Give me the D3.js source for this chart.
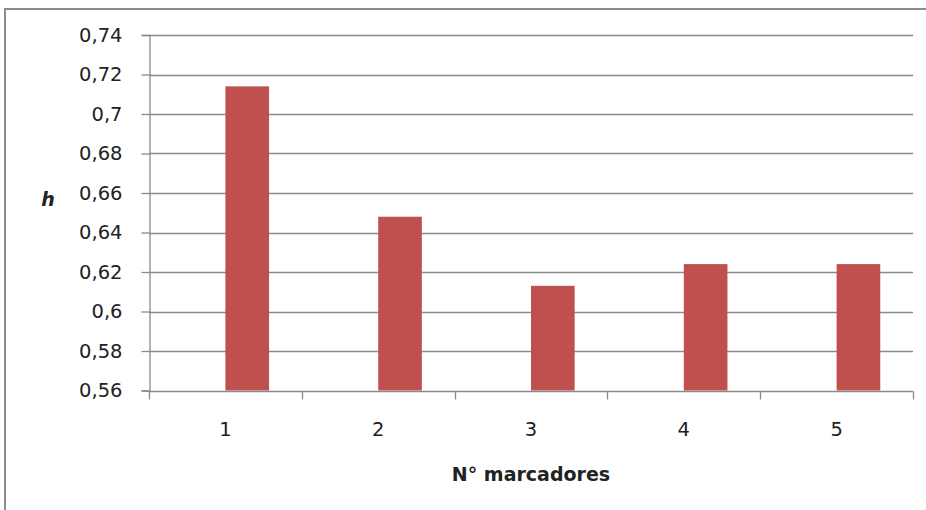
<!DOCTYPE html>
<html><head><meta charset="utf-8">
<script src="https://cdn.jsdelivr.net/npm/d3@7"></script>
<style>body{margin:0;background:#fff;}svg{display:block;font-family:"DejaVu Sans",sans-serif;}</style>
</head><body>
<svg id="c" width="926" height="510"></svg>
<script>
const categories = ["1","2","3","4","5"];
const values = [0.714, 0.648, 0.613, 0.624, 0.624];
const yTicks = [0.56,0.58,0.6,0.62,0.64,0.66,0.68,0.7,0.72,0.74];
const xTitle = "N° marcadores";
const yTitle = "h";
const FONT = "DejaVu Sans, sans-serif";

const svg = d3.select("#c");
const m = {l:149, r:913, t:35, b:390.5};
svg.append("rect").attr("x",5).attr("y",9).attr("width",940).attr("height",520)
  .attr("fill","#fff").attr("stroke","#8c8c8c").attr("stroke-width",2);

const x = d3.scaleBand().domain(categories).range([m.l,m.r]);
const y = d3.scaleLinear().domain([0.56,0.74]).range([m.b,m.t]);
const fmt = d => d3.format(".2~f")(d).replace(".",",");

// gridlines
svg.append("g").selectAll("line").data(yTicks.slice(1)).join("line")
  .attr("x1",m.l).attr("x2",m.r).attr("y1",d=>Math.round(y(d))+0.5).attr("y2",d=>Math.round(y(d))+0.5)
  .attr("stroke","#8a8a8a").attr("stroke-width",1.3);

// bars (second series slot of a 2-series cluster, gap 150%)
const bw = x.bandwidth()/3.5;
svg.append("g").selectAll("rect").data(values).join("rect")
  .attr("x",(d,i)=>x(categories[i])+x.bandwidth()/2)
  .attr("width",bw)
  .attr("y",d=>y(d)).attr("height",d=>y(0.56)-y(d))
  .attr("fill","#C0504D");

// y axis
const ya = svg.append("g").attr("transform",`translate(${m.l+0.5},0)`)
  .call(d3.axisLeft(y).tickValues(yTicks).tickFormat(fmt).tickSize(8).tickPadding(19));
ya.attr("font-family",FONT).attr("font-size",19.5);
ya.select(".domain").attr("stroke","#8a8a8a").attr("stroke-width",1.3);
ya.selectAll(".tick line").attr("stroke","#8a8a8a").attr("stroke-width",1.3);
ya.selectAll("text").attr("fill","#222");

// x axis
const xa = svg.append("g").attr("transform",`translate(0,${Math.round(m.b)+0.5})`);
xa.append("line").attr("x1",m.l).attr("x2",m.r).attr("stroke","#8a8a8a").attr("stroke-width",1.3);
const bounds = categories.map(c=>x(c)).concat([m.r]);
xa.selectAll(".tk").data(bounds).join("line").attr("class","tk")
  .attr("x1",d=>Math.round(d)+0.5).attr("x2",d=>Math.round(d)+0.5).attr("y1",0).attr("y2",8)
  .attr("stroke","#8a8a8a").attr("stroke-width",1.3);
xa.selectAll(".lb").data(categories).join("text").attr("class","lb")
  .attr("x",d=>x(d)+x.bandwidth()/2).attr("y",44).attr("text-anchor","middle")
  .attr("font-family",FONT).attr("font-size",19.5).attr("fill","#222").text(d=>d);

svg.append("text").attr("x",531).attr("y",481).attr("text-anchor","middle")
  .attr("font-family",FONT).attr("font-size",19).attr("font-weight","bold").attr("fill","#222").text(xTitle);
svg.append("text").attr("x",48).attr("y",206).attr("text-anchor","middle")
  .attr("font-family",FONT).attr("font-size",19).attr("font-weight","bold").attr("font-style","italic").attr("fill","#222").text(yTitle);
</script>
</body></html>
